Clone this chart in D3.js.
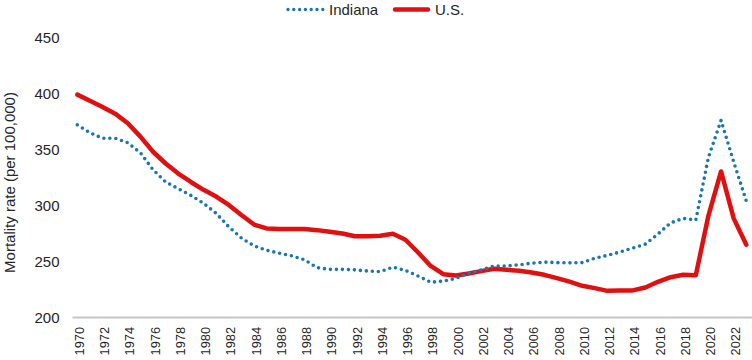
<!DOCTYPE html>
<html>
<head>
<meta charset="utf-8">
<script src="https://cdn.jsdelivr.net/npm/d3@7"></script>
<style>
  html, body { margin: 0; padding: 0; background: #fff; }
  svg { display: block; font-family: "Liberation Sans", Arial, sans-serif; }
</style>
</head>
<body>
<svg id="chart" width="752" height="360"></svg>
<script>
const years = d3.range(1970, 2024);
const indiana = [372, 365, 360, 360, 356, 347, 332, 321, 315, 309,
  302, 293, 281, 271, 264, 260, 257.5, 255, 251.5, 244.5,
  243, 243, 242.5, 241.5, 241, 245, 242, 237, 231.5, 232.5,
  235, 239.5, 242.5, 246, 246, 247, 248.5, 249.5, 249, 248.8,
  249, 253, 255.5, 258.5, 262, 265.5, 274.5, 284.5, 288.5, 287,
  343, 376, 339, 304];
const us = [399, 393.5, 388, 382, 373.5, 361.5, 348, 337.5, 328.5, 321,
  314, 308, 300.5, 291.5, 283, 279.5, 279, 279, 279, 278,
  276.5, 275, 272.5, 272.5, 273, 274.7, 269.4, 258, 246, 238.7,
  237.5, 239.3, 241.4, 243.5, 242.6, 241.7, 240.2, 238.1, 235.2, 232.1,
  228.3, 226.2, 223.8, 224, 224.2, 226.8, 231.9, 236, 238.1, 237.8,
  291, 330.4, 288.5, 265];
const yTicks = [200, 250, 300, 350, 400, 450];
const xTicks = d3.range(1970, 2023, 2);
const seriesNames = ["Indiana", "U.S."];

const svg = d3.select("#chart");
const textColor = "#262626";
const blue = "#1a76b0";
const red = "#e01010";

const x = d3.scaleLinear().domain([1970, 2023]).range([77.3, 746.3]);
const y = d3.scaleLinear().domain([200, 450]).range([317.5, 37.5]);

// Y tick labels
const yAxis = d3.axisLeft(y).tickValues(yTicks).tickSize(0).tickPadding(0);
const gy = svg.append("g").attr("transform", "translate(59.5,0)").call(yAxis);
gy.select(".domain").remove();
gy.selectAll("text").attr("fill", textColor).style("font-size", "15px")
  .style("font-family", "'Liberation Sans', Arial, sans-serif");

// X axis
const xAxis = d3.axisBottom(x).tickValues(xTicks).tickSize(0).tickFormat(d3.format("d"));
const gx = svg.append("g").attr("transform", "translate(0,317.5)").call(xAxis);
gx.select(".domain").remove();
gx.selectAll("text")
  .attr("fill", textColor)
  .style("font-size", "12.8px")
  .style("font-family", "'Liberation Sans', Arial, sans-serif")
  .attr("text-anchor", "end")
  .attr("transform", "translate(1.6,9.5) rotate(-90)")
  .attr("x", 0).attr("y", 0).attr("dy", "0.35em");

// baseline
svg.append("line")
  .attr("x1", 72.5).attr("x2", 752)
  .attr("y1", y(200)).attr("y2", y(200))
  .attr("stroke", "#c6c6c6").attr("stroke-width", 2);

// Y label
svg.append("text")
  .attr("transform", `translate(15,${(y(200) + y(450)) / 2 + 5}) rotate(-90)`)
  .attr("text-anchor", "middle")
  .attr("fill", textColor)
  .style("font-size", "15px")
  .text("Mortality rate (per 100,000)");

const line = d3.line().x((d, i) => x(years[i])).y(d => y(d)).curve(d3.curveLinear);

svg.append("path").datum(us)
  .attr("d", line).attr("fill", "none")
  .attr("stroke", red).attr("stroke-width", 4.5).attr("stroke-linejoin", "round").attr("stroke-linecap", "round");

svg.append("path").datum(indiana)
  .attr("d", line).attr("fill", "none")
  .attr("stroke", blue).attr("stroke-width", 3.6)
  .attr("stroke-dasharray", "0 6").attr("stroke-linecap", "round");

// Legend
const leg = svg.append("g");
leg.append("line").attr("x1", 288).attr("x2", 323).attr("y1", 9.5).attr("y2", 9.5)
  .attr("stroke", blue).attr("stroke-width", 3.4).attr("stroke-dasharray", "0 5.8").attr("stroke-linecap", "round");
leg.append("text").attr("x", 329).attr("y", 14.5).attr("fill", textColor)
  .style("font-size", "15px").text(seriesNames[0]);
leg.append("line").attr("x1", 395).attr("x2", 428).attr("y1", 9.5).attr("y2", 9.5)
  .attr("stroke", red).attr("stroke-width", 4.5).attr("stroke-linecap", "round");
leg.append("text").attr("x", 435).attr("y", 14.5).attr("fill", textColor)
  .style("font-size", "15px").text(seriesNames[1]);
</script>
</body>
</html>
